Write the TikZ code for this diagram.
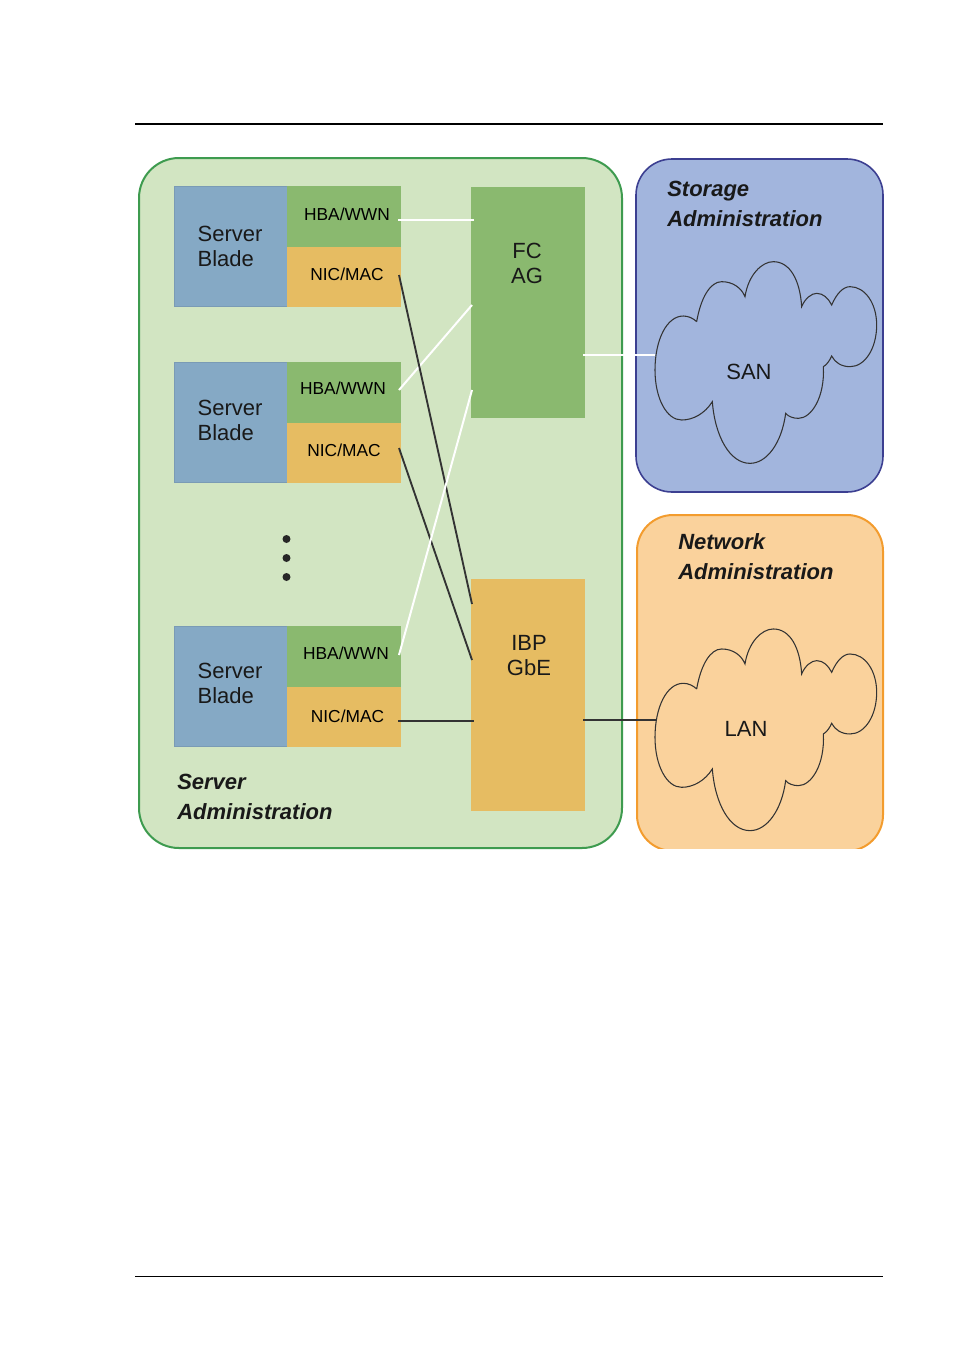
\documentclass[tikz,border=0pt]{standalone}
\usepackage{fontspec}
\setmainfont{Liberation Sans}
\definecolor{srvbg}{HTML}{D2E5C2}
\definecolor{srvline}{HTML}{3E9B4F}
\definecolor{hbagreen}{HTML}{8AB96F}
\definecolor{nicorange}{HTML}{E6BC62}
\definecolor{bladeblue}{HTML}{85A9C5}
\definecolor{stobg}{HTML}{A2B5DD}
\definecolor{stoline}{HTML}{3C3F91}
\definecolor{netbg}{HTML}{FAD29C}
\definecolor{netline}{HTML}{F39C2E}
\definecolor{wire}{HTML}{333333}
\tikzset{
    block/.style={inner sep=0pt, outer sep=0pt, anchor=north west, minimum width=85.5pt},
    bigtxt/.style={font=\fontsize{16.5}{18.75}\selectfont, text=black!90, inner sep=0pt},
    smalltxt/.style={font=\fontsize{13}{15}\selectfont, inner sep=0pt},
    admintxt/.style={font=\fontsize{16.5}{22.5}\selectfont\bfseries\itshape, text=black!90, align=left, anchor=west, inner sep=0pt},
    whitewire/.style={white, line width=1.5pt},
    blackwire/.style={wire, line width=1.4pt},
    cloudshape/.pic={
        \draw[x=.25pt, y=-.25pt, wire, line width=.8pt] (230,545)
            .. controls (242,475) and (270,425) .. (305,425)
            .. controls (340,425) and (365,445) .. (375,470)
            .. controls (385,405) and (425,365) .. (460,365)
            .. controls (510,365) and (540,420) .. (545,500)
            .. controls (555,475) and (575,460) .. (590,460)
            .. controls (610,460) and (625,475) .. (635,495)
            .. controls (650,460) and (670,440) .. (690,440)
            .. controls (735,440) and (770,490) .. (770,555)
            .. controls (770,625) and (735,680) .. (690,680)
            .. controls (665,680) and (645,668) .. (635,648)
            .. controls (630,660) and (620,675) .. (610,680)
            .. controls (615,770) and (575,835) .. (535,835)
            .. controls (520,835) and (505,830) .. (497,820)
            .. controls (485,910) and (440,970) .. (390,970)
            .. controls (330,970) and (285,890) .. (277,785)
            .. controls (255,820) and (220,840) .. (185,840)
            .. controls (140,840) and (105,775) .. (105,690)
            .. controls (105,600) and (140,528) .. (190,528)
            .. controls (205,528) and (220,535) .. (230,545);
    },
}
\begin{document}
\begin{tikzpicture}[x=.75pt, y=-.75pt]
    \useasboundingbox (0,0) rectangle (955,1354);

    % Page rules
    \draw[line width=1.5pt] (135,124) -- (883,124);
    \draw[line width=.7pt] (135,1276) -- (883,1276);

    % Administration areas
    \draw[srvline, fill=srvbg, line width=1.5pt, rounded corners=30pt] (139,158) rectangle (622,848);
    \draw[stoline, fill=stobg, line width=1.2pt, rounded corners=27pt] (636,159) rectangle (883,492);
    \begin{scope}
        \clip (630,510) rectangle (890,848.5);
        \draw[netline, fill=netbg, line width=1.5pt, rounded corners=27pt] (637,515) rectangle (883,851);
    \end{scope}

    % Blades
    \foreach \n/\yb/\yt/\xh/\yh/\xm/\ym in {a/186/246.5/347/214/347/274, b/362/420/343/388/344/450, c/626/683.5/346/653/347.5/716}{
        \node[block, fill=bladeblue, draw=black!8!bladeblue, line width=.3pt, minimum width=84.75pt, minimum height=90.2pt] (blade\n) at (174,\yb) {};
        \node[bigtxt, align=left] (bladetxt\n) at (230,\yt) {Server\\Blade};
        \node[block, fill=hbagreen, minimum height=45.75pt] (hba\n) at (287,\yb) {};
        \node[block, fill=nicorange, minimum height=45pt] (nic\n) at (hba\n.south west) {};
        \node[smalltxt] (hbatxt\n) at (\xh,\yh) {HBA/WWN};
        \node[smalltxt] (nictxt\n) at (\xm,\ym) {NIC/MAC};
    }
    \foreach \y in {539,558,577}{
        \fill[black!85] (286.5,\y) circle (3pt);
    }

    % Aggregators
    \node[block, fill=hbagreen, minimum height=173.25pt] (fc) at (471,187) {};
    \node[block, fill=nicorange, minimum height=174pt] (ibp) at (471,579) {};
    \node[bigtxt, align=center] (fctxt) at (527,263) {FC\\AG};
    \node[bigtxt, align=center] (ibptxt) at (529,656) {IBP\\GbE};

    % Clouds
    \pic at (620,140) {cloudshape};
    \pic at (620,507.3) {cloudshape};
    \node[bigtxt] (san) at (749,372) {SAN};
    \node[bigtxt] (lan) at (746,729) {LAN};
    \coordinate (sanedge) at (655,355);
    \coordinate (lanedge) at (657,720);

    % Area titles
    \node[admintxt] (stotxt) at (667,203.5) {Storage\\Administration};
    \node[admintxt] (nettxt) at (678,557) {Network\\Administration};
    \node[admintxt] (srvtxt) at (177,796.5) {Server\\Administration};

    % Links
    \draw[whitewire] ([shift={(-3,3.5)}]hbaa.east) -- ([shift={(3,-82.5)}]fc.west);
    \draw[whitewire] ([shift={(-2,-2.5)}]hbab.east) -- ([shift={(1,2.5)}]fc.west);
    \draw[blackwire] ([shift={(-2,-2)}]nica.east) -- ([shift={(1,-91)}]ibp.west);
    \draw[blackwire] ([shift={(-2,-5)}]nicb.east) -- ([shift={(1,-35)}]ibp.west);
    \draw[whitewire] ([shift={(-2,-1.5)}]hbac.east) -- ([shift={(1,87.5)}]fc.west);
    \draw[blackwire, line width=1pt] ([shift={(-3,4)}]nicc.east) -- ([shift={(3,26)}]ibp.west);
    \draw[whitewire] ([shift={(-2,52.5)}]fc.east) -- (sanedge);
    \draw[blackwire, line width=1pt] ([shift={(-2,25)}]ibp.east) -- (lanedge);
\end{tikzpicture}
\end{document}
